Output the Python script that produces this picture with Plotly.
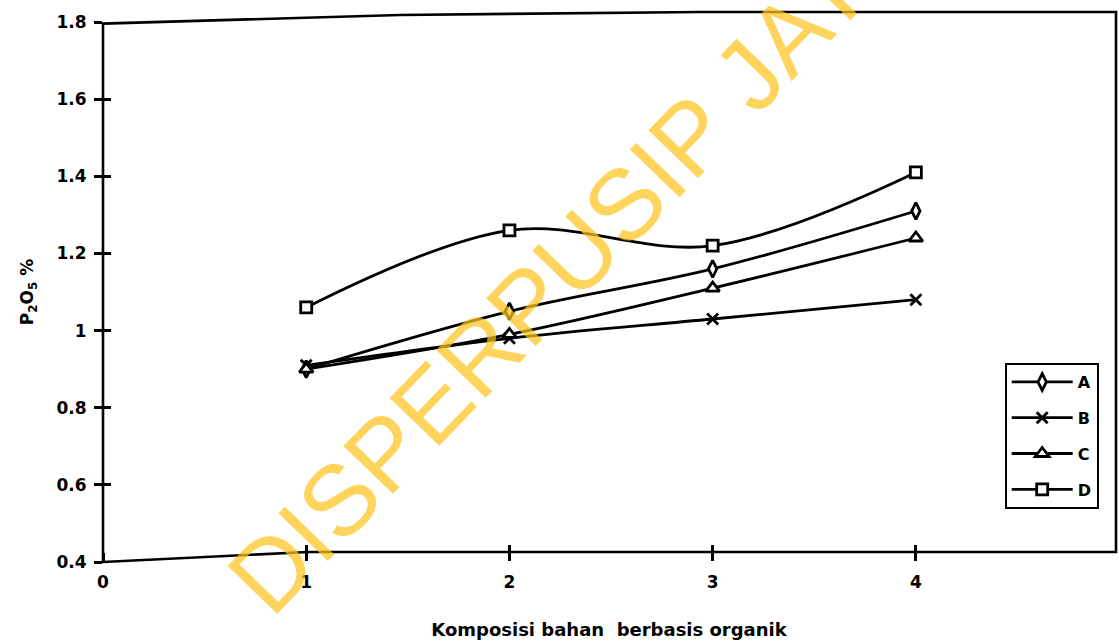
import plotly.graph_objects as go

# Composition levels (x) and P2O5 content (%) for each treatment
komposisi = [1, 2, 3, 4]
seri_a = [0.90, 1.05, 1.16, 1.31]
seri_b = [0.91, 0.98, 1.03, 1.08]
seri_c = [0.90, 0.99, 1.11, 1.24]
seri_d = [1.06, 1.26, 1.22, 1.41]

nama_seri = ["A", "B", "C", "D"]
x_ticks = [0, 1, 2, 3, 4]
y_ticks = [0.4, 0.6, 0.8, 1.0, 1.2, 1.4, 1.6, 1.8]
y_ticktext = ["0.4", "0.6", "0.8", "1", "1.2", "1.4", "1.6", "1.8"]

# --- styling -------------------------------------------------------------
FONT = "DejaVu Sans, Liberation Sans, sans-serif"
WM_FONT = "Liberation Sans, Arial, sans-serif"
INK = "black"
symbols = ["diamond-tall", "x-thin", "triangle-up", "square"]
marker_sizes = [12, 11, 12, 11]
X_RANGE = [0, 4.98]
Y_RANGE = [0.4, 1.8]
AXIS_POS = 0.0185  # bottom axis line sits slightly above the 0.4 level

fig = go.Figure()

for name, vals, sym, ms in zip(nama_seri, [seri_a, seri_b, seri_c, seri_d], symbols, marker_sizes):
    fig.add_trace(go.Scatter(
        x=komposisi, y=vals, name=name, mode="lines+markers",
        legendgroup=name,
        line=dict(color=INK, width=2.8, shape="spline", smoothing=1.0),
        marker=dict(symbol=sym, size=ms, color="white",
                    line=dict(color=INK, width=2.8)),
    ))

# empty trace that carries the overlay axes used for the inner half of the ticks
fig.add_trace(go.Scatter(x=[], y=[], xaxis="x2", yaxis="y2", showlegend=False))

tick_font = dict(family=FONT, size=17, color=INK, weight="bold")
title_font = dict(family=FONT, size=17, color=INK, weight="bold")

fig.update_layout(
    width=1119, height=641,
    margin=dict(l=103, r=4, t=22, b=79),
    plot_bgcolor="white", paper_bgcolor="white",
    font=dict(family=FONT, color=INK),
    xaxis=dict(
        range=X_RANGE, tickvals=x_ticks, ticktext=[str(v) for v in x_ticks],
        anchor="free", position=AXIS_POS,
        ticks="outside", ticklen=8, tickwidth=2.5, tickcolor=INK,
        ticklabelstandoff=7,
        showline=False, showgrid=False, zeroline=False,
        tickfont=tick_font,
        title=dict(text="Komposisi bahan  berbasis organik",
                   font=dict(family=FONT, size=18, color=INK, weight="bold"),
                   standoff=31),
    ),
    yaxis=dict(
        range=Y_RANGE, tickvals=y_ticks, ticktext=y_ticktext,
        ticks="outside", ticklen=8, tickwidth=2.5, tickcolor=INK,
        ticklabelstandoff=4,
        showline=False, showgrid=False, zeroline=False,
        tickfont=tick_font,
        title=dict(text="P<sub>2</sub>O<sub>5</sub> %",
                   font=title_font, standoff=18),
    ),
    xaxis2=dict(
        range=X_RANGE, tickvals=x_ticks, overlaying="x", anchor="free",
        position=AXIS_POS, ticks="inside", ticklen=7, tickwidth=2.5,
        tickcolor=INK, showticklabels=False, showline=False,
        showgrid=False, zeroline=False,
    ),
    yaxis2=dict(
        range=Y_RANGE, tickvals=y_ticks, overlaying="y", anchor="free",
        position=0, side="left", ticks="inside", ticklen=7, tickwidth=2.5,
        tickcolor=INK, showticklabels=False, showline=False,
        showgrid=False, zeroline=False,
    ),
    legend=dict(
        x=0.891, y=0.3685, xanchor="left", yanchor="top",
        bgcolor="white", bordercolor=INK, borderwidth=2,
        font=dict(family=FONT, size=16, color=INK, weight="bold"),
        tracegroupgap=12, itemwidth=61,
    ),
    showlegend=True,
)

# chart frame (slightly skewed outline of the plotting area)
fig.add_shape(
    type="path", xref="paper", yref="paper",
    path="M 0 0 L 0.2026 0.0185 L 1.001 0.0185 L 1.001 1.0185 "
         "L 0.59 1.0185 L 0.2935 1.013 L 0 0.997 Z",
    line=dict(color=INK, width=2.6), fillcolor="rgba(0,0,0,0)", layer="above",
)

# library watermark
fig.add_annotation(
    text="DISPERPUSIP JATIM", xref="paper", yref="paper",
    x=0.478, y=0.59, showarrow=False, textangle=-46,
    font=dict(family=WM_FONT, size=100, color="rgba(255,196,30,0.72)"),
)

fig.write_html("out.html")
